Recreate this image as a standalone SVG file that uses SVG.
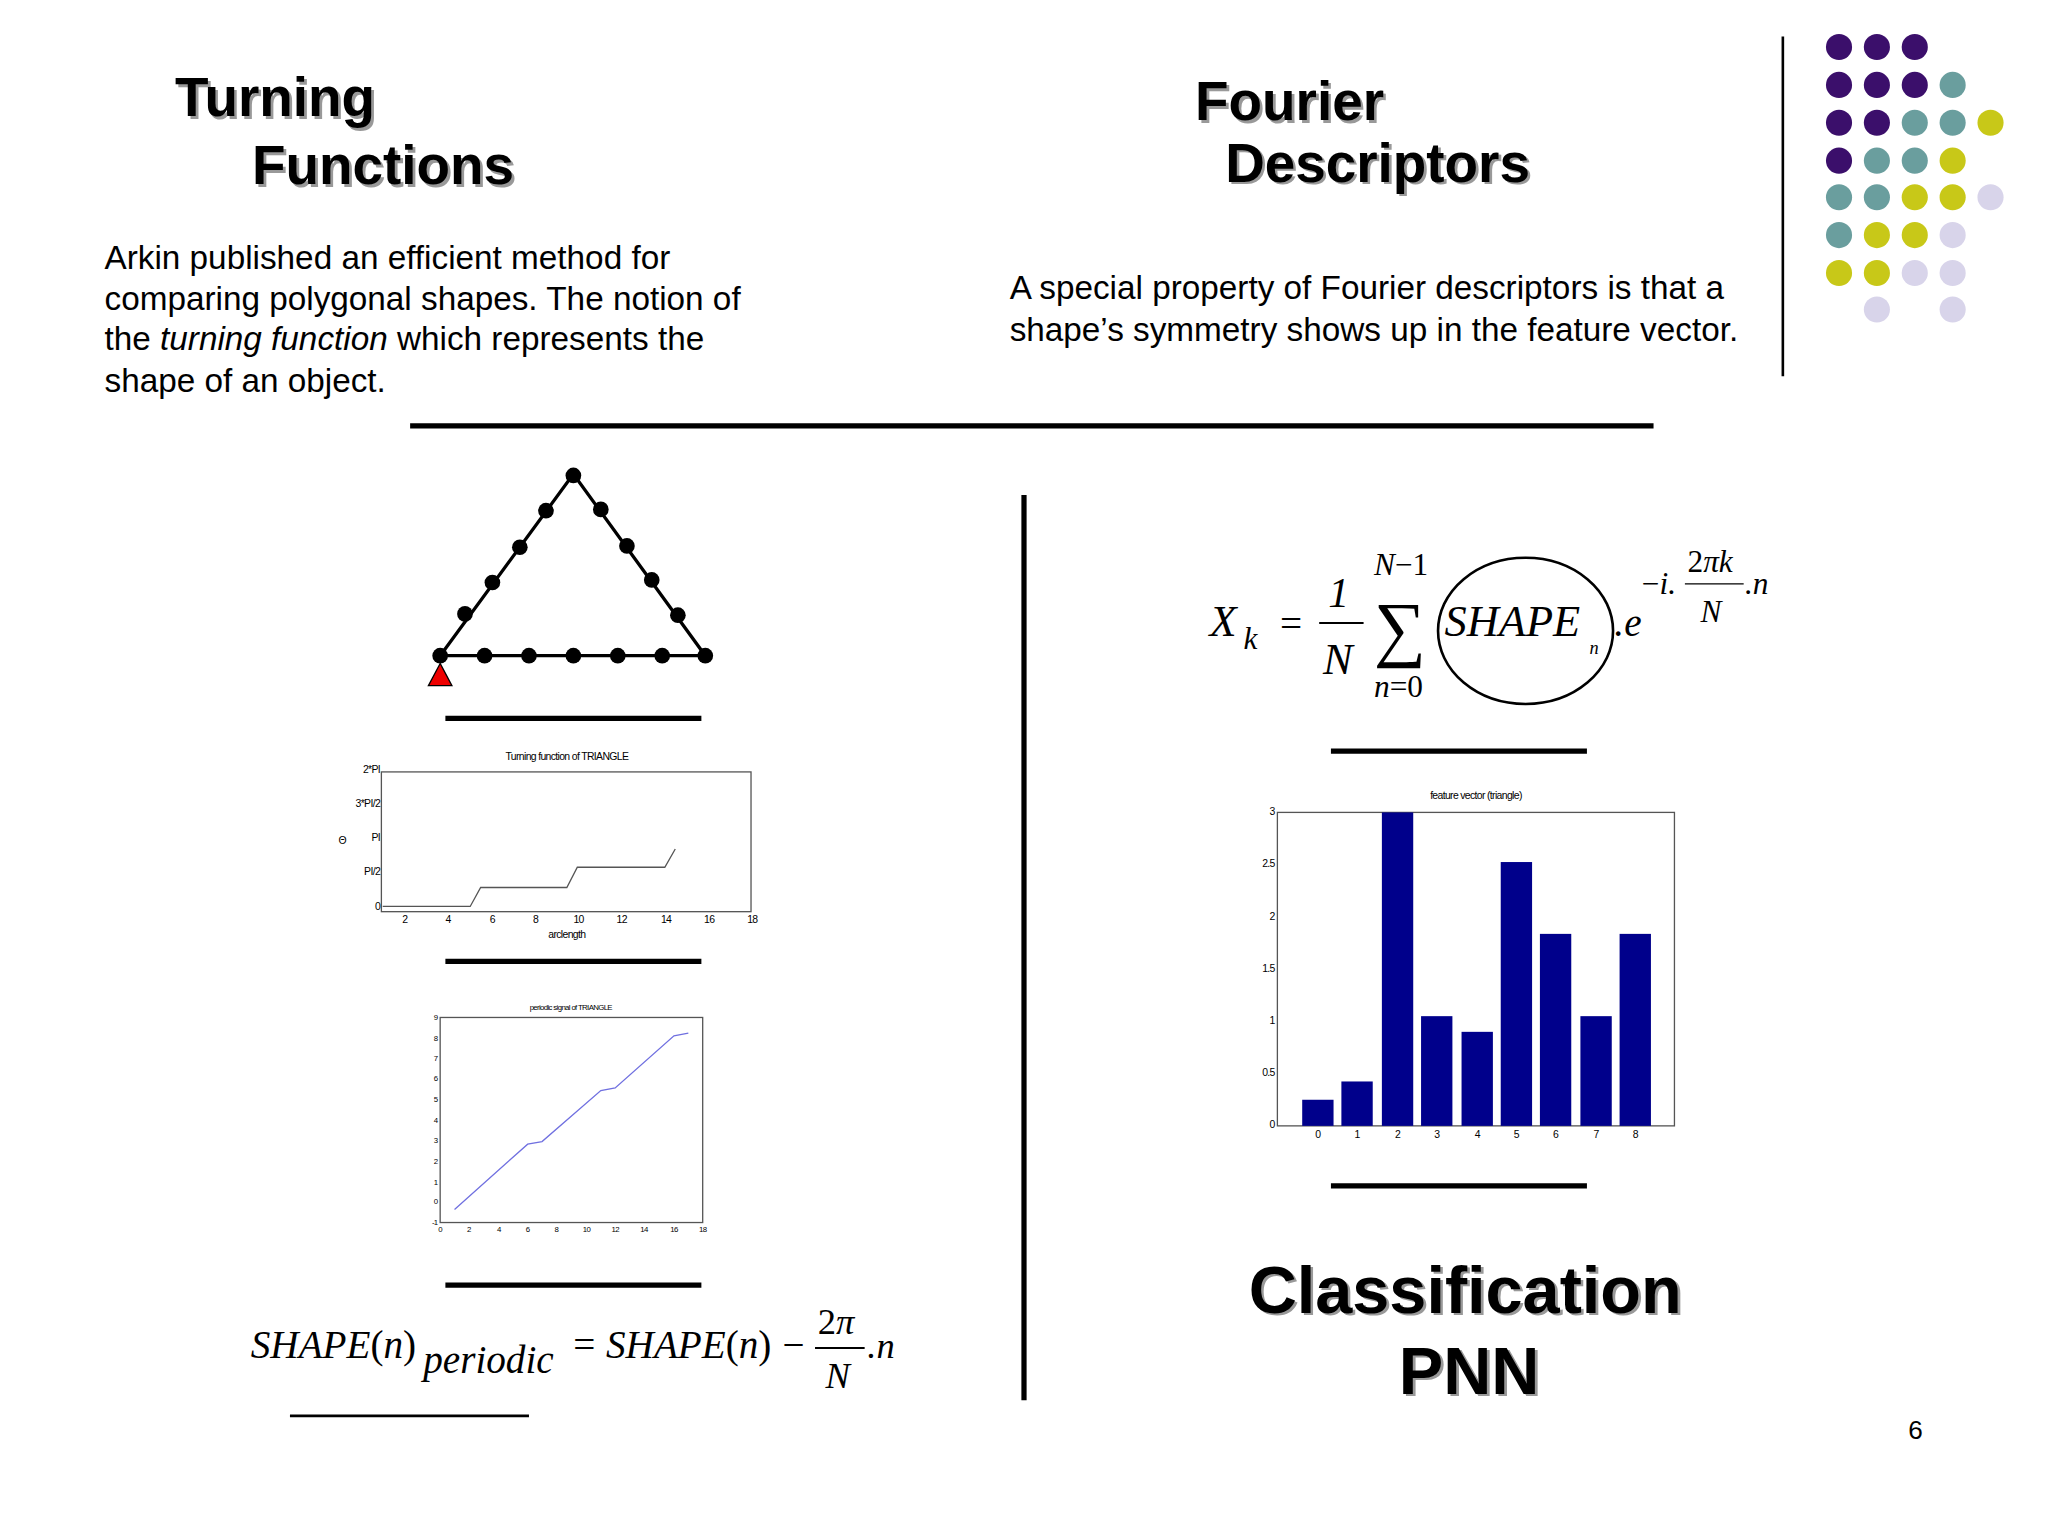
<svg xmlns="http://www.w3.org/2000/svg" width="2048" height="1536" viewBox="0 0 2048 1536">
<style>
.t{font-family:"Liberation Sans",Arial,sans-serif;font-weight:bold;font-size:42px;fill:#000}
.sh{font-family:"Liberation Sans",Arial,sans-serif;font-weight:bold;font-size:42px;fill:#999}
.b{font-family:"Liberation Sans",Arial,sans-serif;font-size:25.5px;fill:#000}
.m{font-family:"Liberation Serif","Times New Roman",serif;font-style:italic;fill:#000}
.s{font-family:"Liberation Sans",Arial,sans-serif;font-size:8px;fill:#000;letter-spacing:-0.5px}
.rule{stroke:#000;stroke-width:4}
.ax{fill:none;stroke:#555;stroke-width:1}
.p{fill:#3B0F6B}.g{fill:#6A9E9E}.y{fill:#C8C818}.l{fill:#D8D4EA}
</style>
<rect width="2048" height="1536" fill="#fff"/>
<g transform="scale(1.30612)">
<g id="titles">
<text class="sh" x="136" y="91">Turning</text><text class="t" x="134" y="89">Turning</text>
<text class="sh" x="195" y="143">Functions</text><text class="t" x="193" y="141">Functions</text>
<text class="sh" x="917" y="94">Fourier</text><text class="t" x="915" y="92">Fourier</text>
<text class="sh" x="940" y="141">Descriptors</text><text class="t" x="938" y="139">Descriptors</text>
<text class="sh" x="958" y="1007" style="font-size:51px">Classification</text><text class="t" x="956" y="1005" style="font-size:51px">Classification</text>
<text class="sh" x="1073" y="1069" style="font-size:51px">PNN</text><text class="t" x="1071" y="1067" style="font-size:51px">PNN</text>
</g>
<g id="text-left">
<text class="b" x="80" y="206">Arkin published an efficient method for</text>
<text class="b" x="80" y="237">comparing polygonal shapes. The notion of</text>
<text class="b" x="80" y="268">the <tspan font-style="italic">turning function</tspan> which represents the</text>
<text class="b" x="80" y="300">shape of an object.</text>
</g>
<g id="text-right">
<text class="b" x="773" y="229">A special property of Fourier descriptors is that a</text>
<text class="b" x="773" y="261">shape’s symmetry shows up in the feature vector.</text>
</g>
<g id="dots">
<circle class="p" cx="1408" cy="36" r="10"/><circle class="p" cx="1437" cy="36" r="10"/><circle class="p" cx="1466" cy="36" r="10"/>
<circle class="p" cx="1408" cy="65" r="10"/><circle class="p" cx="1437" cy="65" r="10"/><circle class="p" cx="1466" cy="65" r="10"/><circle class="g" cx="1495" cy="65" r="10"/>
<circle class="p" cx="1408" cy="94" r="10"/><circle class="p" cx="1437" cy="94" r="10"/><circle class="g" cx="1466" cy="94" r="10"/><circle class="g" cx="1495" cy="94" r="10"/><circle class="y" cx="1524" cy="94" r="10"/>
<circle class="p" cx="1408" cy="123" r="10"/><circle class="g" cx="1437" cy="123" r="10"/><circle class="g" cx="1466" cy="123" r="10"/><circle class="y" cx="1495" cy="123" r="10"/>
<circle class="g" cx="1408" cy="151" r="10"/><circle class="g" cx="1437" cy="151" r="10"/><circle class="y" cx="1466" cy="151" r="10"/><circle class="y" cx="1495" cy="151" r="10"/><circle class="l" cx="1524" cy="151" r="10"/>
<circle class="g" cx="1408" cy="180" r="10"/><circle class="y" cx="1437" cy="180" r="10"/><circle class="y" cx="1466" cy="180" r="10"/><circle class="l" cx="1495" cy="180" r="10"/>
<circle class="y" cx="1408" cy="209" r="10"/><circle class="y" cx="1437" cy="209" r="10"/><circle class="l" cx="1466" cy="209" r="10"/><circle class="l" cx="1495" cy="209" r="10"/>
<circle class="l" cx="1437" cy="237" r="10"/><circle class="l" cx="1495" cy="237" r="10"/>
</g>
<g id="rules">
<line x1="1365" y1="28" x2="1365" y2="288" stroke="#000" stroke-width="2"/>
<line class="rule" x1="314" y1="326" x2="1266" y2="326"/>
<line class="rule" x1="784" y1="379" x2="784" y2="1072"/>
<line class="rule" x1="341" y1="550" x2="537" y2="550"/>
<line class="rule" x1="341" y1="736" x2="537" y2="736"/>
<line class="rule" x1="341" y1="984" x2="537" y2="984"/>
<line class="rule" x1="1019" y1="575" x2="1215" y2="575"/>
<line class="rule" x1="1019" y1="908" x2="1215" y2="908"/>
<line x1="222" y1="1084" x2="405" y2="1084" stroke="#000" stroke-width="2"/>
</g>
<g id="triangle">
<polygon points="337,502 439,363 540,502" fill="none" stroke="#000" stroke-width="2.5"/>
<g fill="#000">
<circle cx="337" cy="502" r="6"/><circle cx="356" cy="470" r="6"/><circle cx="377" cy="446" r="6"/><circle cx="398" cy="419" r="6"/><circle cx="418" cy="391" r="6"/><circle cx="439" cy="364" r="6"/><circle cx="460" cy="390" r="6"/><circle cx="480" cy="418" r="6"/><circle cx="499" cy="444" r="6"/><circle cx="519" cy="471" r="6"/><circle cx="540" cy="502" r="6"/>
<circle cx="371" cy="502" r="6"/><circle cx="405" cy="502" r="6"/><circle cx="439" cy="502" r="6"/><circle cx="473" cy="502" r="6"/><circle cx="507" cy="502" r="6"/>
</g>
<polygon points="337,508 328,525 346,525" fill="#e00" stroke="#000" stroke-width="1"/>
</g>
<g id="turning-chart">
<text class="s" x="434" y="582" text-anchor="middle">Turning function of TRIANGLE</text>
<rect class="ax" x="292" y="591" width="283" height="107"/>
<g class="s" text-anchor="end"><text x="291" y="592">2*PI</text><text x="291" y="618">3*PI/2</text><text x="291" y="644">PI</text><text x="291" y="670">PI/2</text><text x="291" y="697">0</text></g>
<text class="s" x="262" y="646" text-anchor="middle">Θ</text>
<g class="s" text-anchor="middle"><text x="310" y="707">2</text><text x="343" y="707">4</text><text x="377" y="707">6</text><text x="410" y="707">8</text><text x="443" y="707">10</text><text x="476" y="707">12</text><text x="510" y="707">14</text><text x="543" y="707">16</text><text x="576" y="707">18</text></g>
<text class="s" x="434" y="718" text-anchor="middle">arclength</text>
<polyline points="293,694 360,694 368,679.5 434,679.5 442,664 509,664 517,650" fill="none" stroke="#555" stroke-width="1"/>
</g>
<g id="periodic-chart">
<text class="s" x="437" y="773" text-anchor="middle" style="font-size:6px">periodic signal of TRIANGLE</text>
<rect class="ax" x="337" y="779" width="201" height="157"/>
<g class="s" text-anchor="end" style="font-size:6px"><text x="335" y="781">9</text><text x="335" y="797">8</text><text x="335" y="812">7</text><text x="335" y="828">6</text><text x="335" y="844">5</text><text x="335" y="860">4</text><text x="335" y="875">3</text><text x="335" y="891">2</text><text x="335" y="907">1</text><text x="335" y="922">0</text><text x="335" y="938">-1</text></g>
<g class="s" text-anchor="middle" style="font-size:6px"><text x="337" y="943">0</text><text x="359" y="943">2</text><text x="382" y="943">4</text><text x="404" y="943">6</text><text x="426" y="943">8</text><text x="449" y="943">10</text><text x="471" y="943">12</text><text x="493" y="943">14</text><text x="516" y="943">16</text><text x="538" y="943">18</text></g>
<polyline points="348,926 404,876 415,874 460,835 471,833 516,793 527,791" fill="none" stroke="#7070e0" stroke-width="1"/>
</g>
<g id="bar-chart">
<text class="s" x="1130" y="612" text-anchor="middle">feature vector (triangle)</text>
<rect class="ax" x="978" y="622" width="304" height="240"/>
<g class="s" text-anchor="end"><text x="976" y="624">3</text><text x="976" y="664">2.5</text><text x="976" y="704">2</text><text x="976" y="744">1.5</text><text x="976" y="784">1</text><text x="976" y="824">0.5</text><text x="976" y="864">0</text></g>
<g class="s" text-anchor="middle"><text x="1009" y="871">0</text><text x="1039" y="871">1</text><text x="1070" y="871">2</text><text x="1100" y="871">3</text><text x="1131" y="871">4</text><text x="1161" y="871">5</text><text x="1191" y="871">6</text><text x="1222" y="871">7</text><text x="1252" y="871">8</text></g>
<g fill="#00008B">
<rect x="997" y="842" width="24" height="20"/><rect x="1027" y="828" width="24" height="34"/><rect x="1058" y="622" width="24" height="240"/><rect x="1088" y="778" width="24" height="84"/><rect x="1119" y="790" width="24" height="72"/><rect x="1149" y="660" width="24" height="202"/><rect x="1179" y="715" width="24" height="147"/><rect x="1210" y="778" width="24" height="84"/><rect x="1240" y="715" width="24" height="147"/>
</g>
</g>
<g id="formula-fourier">
<text class="m" x="926" y="487" font-size="34">X</text><text class="m" x="952" y="497" font-size="24">k</text>
<text class="m" x="978" y="488" font-size="30" font-style="normal">=</text>
<text class="m" x="1017" y="465" font-size="32" font-style="normal">1</text>
<line x1="1010" y1="477" x2="1044" y2="477" stroke="#000" stroke-width="1.5"/>
<text class="m" x="1013" y="516" font-size="34">N</text>
<text class="m" x="1052" y="500" font-size="56" font-style="normal">∑</text>
<text class="m" x="1052" y="440" font-size="24">N<tspan font-style="normal">−1</tspan></text>
<text class="m" x="1052" y="534" font-size="24">n<tspan font-style="normal">=0</tspan></text>
<ellipse cx="1168" cy="483" rx="67" ry="56" fill="none" stroke="#000" stroke-width="2"/>
<text class="m" x="1106" y="487" font-size="34">SHAPE</text>
<text class="m" x="1217" y="501" font-size="14">n</text>
<text class="m" x="1236" y="487" font-size="30">.e</text>
<text class="m" x="1257" y="455" font-size="24"><tspan font-style="normal">−</tspan>i.</text>
<text class="m" x="1292" y="438" font-size="24"><tspan font-style="normal">2</tspan>πk</text>
<line x1="1290" y1="447" x2="1335" y2="447" stroke="#000" stroke-width="1"/>
<text class="m" x="1302" y="476" font-size="24">N</text>
<text class="m" x="1336" y="455" font-size="24">.n</text>
</g>
<g id="formula-periodic">
<text class="m" x="192" y="1040" font-size="30">SHAPE<tspan font-style="normal">(</tspan>n<tspan font-style="normal">)</tspan></text>
<text class="m" x="324" y="1051" font-size="30">periodic</text>
<text class="m" x="437" y="1040" font-size="30" font-style="normal">=</text>
<text class="m" x="464" y="1040" font-size="30">SHAPE<tspan font-style="normal">(</tspan>n<tspan font-style="normal">)</tspan></text>
<text class="m" x="597" y="1040" font-size="30" font-style="normal">−</text>
<text class="m" x="626" y="1021" font-size="28"><tspan font-style="normal">2</tspan>π</text>
<line x1="624" y1="1032" x2="662" y2="1032" stroke="#000" stroke-width="1.5"/>
<text class="m" x="632" y="1063" font-size="28">N</text>
<text class="m" x="664" y="1040" font-size="28">.n</text>
</g>
<text class="b" x="1461" y="1102" style="font-size:20px">6</text>
</g>
</svg>
